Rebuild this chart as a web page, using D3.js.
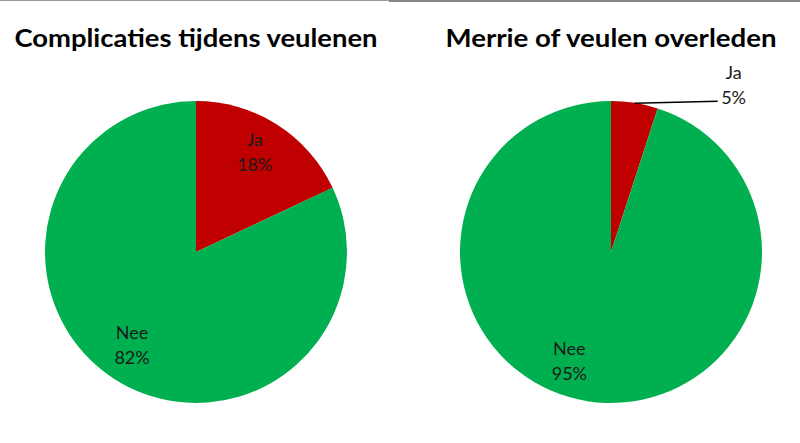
<!DOCTYPE html>
<html><head><meta charset="utf-8">
<script src="https://cdn.jsdelivr.net/npm/d3@7"></script>
<style>html,body{margin:0;padding:0;background:#fff;}svg{display:block;}</style>
</head><body>
<script>
const categories = ["Ja", "Nee"];
const titles = ["Complicaties tijdens veulenen", "Merrie of veulen overleden"];
const complicatiesValues = [18, 82];
const overledenValues = [5, 95];
const colors = ["#C00000", "#00B050"];

const W = 800, H = 443;
const svg = d3.select("body").append("svg").attr("width", W).attr("height", H);

// top border lines
svg.append("line").attr("x1", 0).attr("x2", 389).attr("y1", 0.5).attr("y2", 0.5)
  .attr("stroke", "#9a9a9a").attr("stroke-width", 1);
svg.append("line").attr("x1", 389).attr("x2", W).attr("y1", 1).attr("y2", 1)
  .attr("stroke", "#878787").attr("stroke-width", 2);

const R = 151;
const pies = [
  {title: titles[0], values: complicatiesValues, cx: 196, cy: 252, titleW: 363,
   labels: [{r: 0.77, shift: -2}, {r: 0.75, shift: 2}]},
  {title: titles[1], values: overledenValues, cx: 611, cy: 252, titleW: 331,
   labels: [{outside: true}, {r: 0.77, shift: 12}]}
];

const pie = d3.pie().sort(null).value(d => d);
const arc = d3.arc().innerRadius(0).outerRadius(R);
const FONT = "Lato, 'Open Sans', sans-serif";

pies.forEach(p => {
  const g = svg.append("g").attr("transform", `translate(${p.cx},${p.cy})`);
  const arcs = pie(p.values);
  g.selectAll("path").data(arcs).join("path")
    .attr("d", arc).attr("fill", (d, i) => colors[i]);

  svg.append("text").attr("x", p.cx).attr("y", 47)
    .attr("text-anchor", "middle")
    .attr("font-family", FONT)
    .attr("font-weight", "bold").attr("font-size", 25.5)
    .attr("textLength", p.titleW).attr("lengthAdjust", "spacingAndGlyphs")
    .attr("fill", "#000").text(p.title);

  arcs.forEach((a, i) => {
    const lab = p.labels[i];
    const mid = (a.startAngle + a.endAngle) / 2;
    let x, b1, b2;
    if (lab.outside) {
      const px = R * Math.sin(mid), py = -R * Math.cos(mid);
      x = px + 99;
      g.append("line").attr("x1", px).attr("y1", py + 0.5).attr("x2", x - 16).attr("y2", py - 1.5)
        .attr("stroke", "#000").attr("stroke-width", 1.5);
      b1 = py - 24; b2 = py + 1;
    } else {
      const ang = mid + lab.shift * Math.PI / 180;
      x = R * lab.r * Math.sin(ang);
      const y = -R * lab.r * Math.cos(ang);
      b1 = y - 6; b2 = y + 19;
    }
    const t = g.append("text").attr("text-anchor", "middle")
      .attr("font-family", FONT).attr("font-size", 18)
      .attr("fill", "#1a1a1a");
    t.append("tspan").attr("x", x).attr("y", b1).text(categories[i]);
    t.append("tspan").attr("x", x).attr("y", b2).text(a.data + "%");
  });
});
</script>
</body></html>
